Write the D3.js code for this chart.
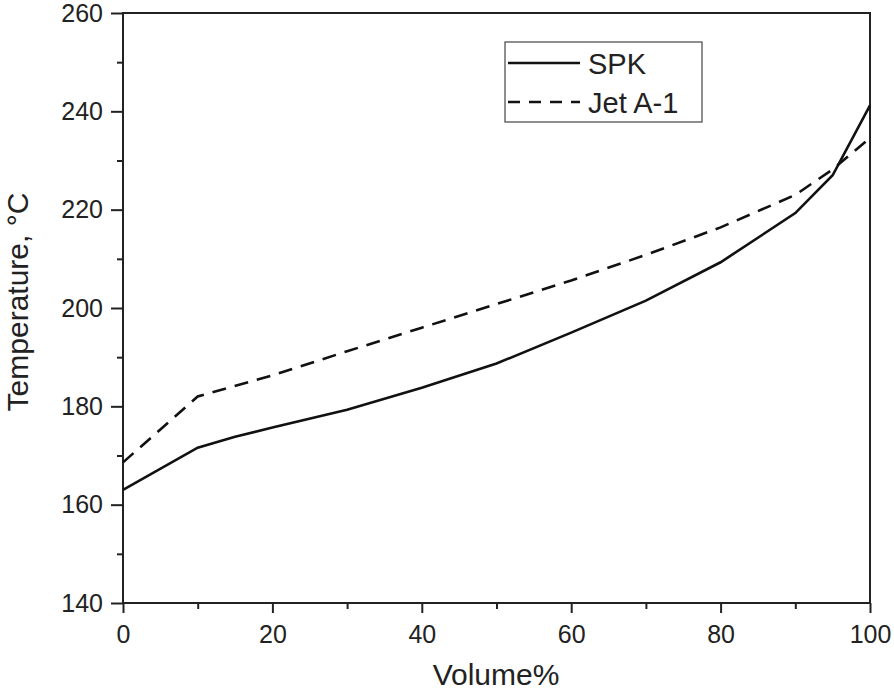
<!DOCTYPE html>
<html>
<head>
<meta charset="utf-8">
<script src="https://cdn.jsdelivr.net/npm/d3@7"></script>
<style>
  body { margin: 0; background: #fff; }
  text { font-family: "Liberation Sans", Arial, sans-serif; fill: #222; }
</style>
</head>
<body>
<div id="app"></div>
<script>
// data
const spkVolume = [0, 10, 15, 20, 30, 40, 50, 60, 70, 80, 90, 95, 100]
const spkTemp = [163, 171.6, 173.8, 175.7, 179.3, 183.8, 188.7, 195, 201.5, 209.3, 219.3, 227, 241.2]
const jetVolume = [0, 10, 20, 30, 40, 50, 60, 70, 80, 90, 95, 100]
const jetTemp = [168.6, 182, 186.3, 191.2, 196, 200.8, 205.6, 210.8, 216.4, 223, 228.2, 234.6]
const xTicks = [0, 20, 40, 60, 80, 100]
const yTicks = [140, 160, 180, 200, 220, 240, 260]
const seriesNames = ['SPK', 'Jet A-1']

const width = 894
const height = 693
const padLeft = 123, padRight = 870, padTop = 13, padBottom = 603

const svg = d3.select('#app')
  .append('svg')
  .attr('width', width)
  .attr('height', height)

const x = d3.scaleLinear().domain([0, 100]).range([padLeft, padRight])
const y = d3.scaleLinear().domain([140, 260]).range([padBottom, padTop])

// frame
svg.append('rect')
  .attr('x', padLeft).attr('y', padTop)
  .attr('width', padRight - padLeft).attr('height', padBottom - padTop)
  .attr('fill', 'none').attr('stroke', '#222').attr('stroke-width', 2)

// x axis
const axisX = d3.axisBottom(x).tickValues(xTicks).tickSize(10).tickPadding(12)
const gx = svg.append('g').attr('transform', `translate(0, ${padBottom})`).call(axisX)
gx.select('.domain').remove()
gx.selectAll('line').attr('stroke', '#222').attr('stroke-width', 2)
gx.selectAll('text').attr('font-size', 25).attr('fill', '#222')

const minorX = d3.axisBottom(x).tickValues(d3.range(10, 100, 20)).tickSize(6).tickFormat('')
const gmx = svg.append('g').attr('transform', `translate(0, ${padBottom})`).call(minorX)
gmx.select('.domain').remove()
gmx.selectAll('line').attr('stroke', '#222').attr('stroke-width', 2)

// y axis
const axisY = d3.axisLeft(y).tickValues(yTicks).tickSize(12).tickPadding(8)
const gy = svg.append('g').attr('transform', `translate(${padLeft}, 0)`).call(axisY)
gy.select('.domain').remove()
gy.selectAll('line').attr('stroke', '#222').attr('stroke-width', 2)
gy.selectAll('text').attr('font-size', 25).attr('fill', '#222')

const minorY = d3.axisLeft(y).tickValues(d3.range(150, 260, 20)).tickSize(6).tickFormat('')
const gmy = svg.append('g').attr('transform', `translate(${padLeft}, 0)`).call(minorY)
gmy.select('.domain').remove()
gmy.selectAll('line').attr('stroke', '#222').attr('stroke-width', 2)

// titles
svg.append('text')
  .attr('x', 496).attr('y', 685)
  .attr('text-anchor', 'middle').attr('font-size', 30)
  .text('Volume%')

svg.append('text')
  .attr('transform', 'translate(28, 302) rotate(-90)')
  .attr('text-anchor', 'middle').attr('font-size', 30)
  .text('Temperature, °C')

// lines
const line = d3.line().x(d => x(d[0])).y(d => y(d[1]))

svg.append('path')
  .datum(jetVolume.map((v, i) => [v, jetTemp[i]]))
  .attr('d', line)
  .attr('fill', 'none').attr('stroke', '#111').attr('stroke-width', 2.6)
  .attr('stroke-dasharray', '14,9')

svg.append('path')
  .datum(spkVolume.map((v, i) => [v, spkTemp[i]]))
  .attr('d', line)
  .attr('fill', 'none').attr('stroke', '#111').attr('stroke-width', 2.6)

// legend
const legend = svg.append('g')
legend.append('rect')
  .attr('x', 505).attr('y', 42).attr('width', 197).attr('height', 80)
  .attr('fill', '#fff').attr('stroke', '#444').attr('stroke-width', 1.2)

seriesNames.forEach((name, i) => {
  const ly = 63 + i * 39
  legend.append('line')
    .attr('x1', 508).attr('x2', 580).attr('y1', ly).attr('y2', ly)
    .attr('stroke', '#111').attr('stroke-width', 2.6)
    .attr('stroke-dasharray', i === 1 ? '12,9' : null)
  legend.append('text')
    .attr('x', 588).attr('y', ly + 11)
    .attr('font-size', 29)
    .text(name)
})
</script>
</body>
</html>
